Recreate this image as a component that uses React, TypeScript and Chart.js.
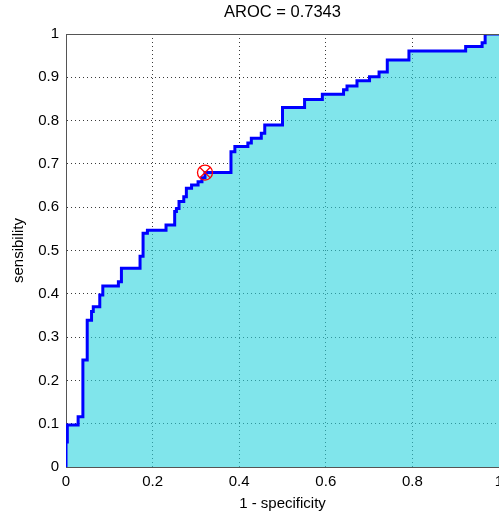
import React, { useEffect, useRef } from "react";
import { Chart, registerables } from "chart.js";

Chart.register(...registerables);

const titleText = "AROC = 0.7343";
const xTitle = "1 - specificity";
const yTitle = "sensibility";

// ROC curve vertices (top of each vertical riser)
const fpr = [0, 0, 0.003, 0.028, 0.039, 0.049, 0.059, 0.063, 0.078, 0.085, 0.121, 0.128, 0.171, 0.178, 0.188, 0.231, 0.251, 0.255, 0.261, 0.272, 0.278, 0.290, 0.305, 0.314, 0.321, 0.381, 0.390, 0.420, 0.428, 0.451, 0.459, 0.500, 0.551, 0.592, 0.641, 0.649, 0.672, 0.701, 0.723, 0.742, 0.792, 0.923, 0.961, 0.968, 1];
const tpr = [0, 0.058, 0.097, 0.116, 0.247, 0.339, 0.359, 0.370, 0.397, 0.418, 0.428, 0.459, 0.487, 0.540, 0.547, 0.559, 0.590, 0.597, 0.613, 0.624, 0.644, 0.651, 0.659, 0.668, 0.680, 0.728, 0.740, 0.748, 0.759, 0.771, 0.790, 0.830, 0.849, 0.861, 0.871, 0.880, 0.892, 0.901, 0.912, 0.940, 0.961, 0.971, 0.980, 1.0, 1.0];

// optimal operating point
const opX = [0.321];
const opY = [0.680];

const xTicks = [0, 0.2, 0.4, 0.6, 0.8, 1];
const yTicks = [0, 0.1, 0.2, 0.3, 0.4, 0.5, 0.6, 0.7, 0.8, 0.9, 1];

const FONT = "'Liberation Sans', Arial, Helvetica, sans-serif";

const framePlugin = {
  id: "frame",
  afterDraw(chart: any) {
    const { ctx, chartArea } = chart;
    ctx.save();
    ctx.strokeStyle = "#555555";
    ctx.lineWidth = 1;
    ctx.beginPath();
    ctx.moveTo(chartArea.left, chartArea.top + 0.5);
    ctx.lineTo(chartArea.right, chartArea.top + 0.5);
    ctx.stroke();
    ctx.restore();
  },
};

export default function App() {
  const ref = useRef<HTMLCanvasElement>(null);

  useEffect(() => {
    if (!ref.current) return;
    const roc = fpr.map((x, i) => ({ x, y: tpr[i] }));
    const op = opX.map((x, i) => ({ x, y: opY[i] }));
    const chart = new Chart(ref.current, {
      type: "scatter",
      data: {
        datasets: [
          {
            data: op,
            showLine: false,
            pointStyle: "circle",
            pointRadius: 7.5,
            pointBorderColor: "#ff0000",
            pointBackgroundColor: "rgba(0,0,0,0)",
            pointBorderWidth: 1.3,
            order: 0,
          },
          {
            data: op,
            showLine: false,
            pointStyle: "crossRot",
            pointRadius: 7.5,
            pointBorderColor: "#ff0000",
            pointBackgroundColor: "rgba(0,0,0,0)",
            pointBorderWidth: 1.3,
            order: 0,
          },
          {
            data: roc,
            showLine: true,
            stepped: true,
            borderColor: "#0000ff",
            borderWidth: 3,
            pointRadius: 0,
            fill: "origin",
            backgroundColor: "rgba(43,212,222,0.6)",
            order: 1,
          } as any,
        ],
      },
      options: {
        responsive: false,
        animation: false,
        layout: { padding: 0, autoPadding: false },
        plugins: {
          legend: { display: false },
          tooltip: { enabled: false },
          title: {
            display: true,
            fullSize: false,
            text: titleText,
            color: "#000",
            font: { family: FONT, size: 16.5, weight: "normal" },
            padding: { top: 3, bottom: 11.2 },
          },
        },
        scales: {
          x: {
            type: "linear",
            min: 0,
            max: 1,
            afterBuildTicks: (s: any) => {
              s.ticks = xTicks.map((v) => ({ value: v }));
            },
            afterFit: (s: any) => {
              s.height = 50;
              s.paddingLeft = 0;
              s.paddingRight = 0;
            },
            ticks: {
              color: "#000",
              font: { family: FONT, size: 15 },
              padding: 6,
              maxRotation: 0,
              autoSkip: false,
              callback: (v: any) => String(+(+v).toFixed(1)),
            },
            grid: {
              color: "#3a3a3a",
              drawTicks: false,
              lineWidth: 1,
            },
            border: { display: true, color: "#555555", width: 1, dash: [1, 3] },
            title: {
              display: true,
              text: xTitle,
              color: "#000",
              font: { family: FONT, size: 15 },
              padding: { top: 0, bottom: 4 },
            },
          },
          y: {
            type: "linear",
            min: 0,
            max: 1,
            afterBuildTicks: (s: any) => {
              s.ticks = yTicks.map((v) => ({ value: v }));
            },
            afterFit: (s: any) => {
              s.width = 66;
              s.paddingTop = 0;
              s.paddingBottom = 0;
            },
            ticks: {
              color: "#000",
              font: { family: FONT, size: 15 },
              padding: 7,
              autoSkip: false,
              callback: (v: any) => String(+(+v).toFixed(1)),
            },
            grid: {
              color: "#3a3a3a",
              drawTicks: false,
              lineWidth: 1,
            },
            border: { display: true, color: "#555555", width: 1, dash: [1, 3] },
            title: {
              display: true,
              text: yTitle,
              color: "#000",
              font: { family: FONT, size: 15 },
              padding: { top: 10, bottom: 0 },
            },
          },
        },
      },
      plugins: [framePlugin],
    });
    return () => chart.destroy();
  }, []);

  return (
    <div style={{ position: "fixed", left: 0, top: 0, width: 499, height: 517, background: "#fff" }}>
      <canvas ref={ref} width={499} height={517} style={{ display: "block" }} />
    </div>
  );
}
